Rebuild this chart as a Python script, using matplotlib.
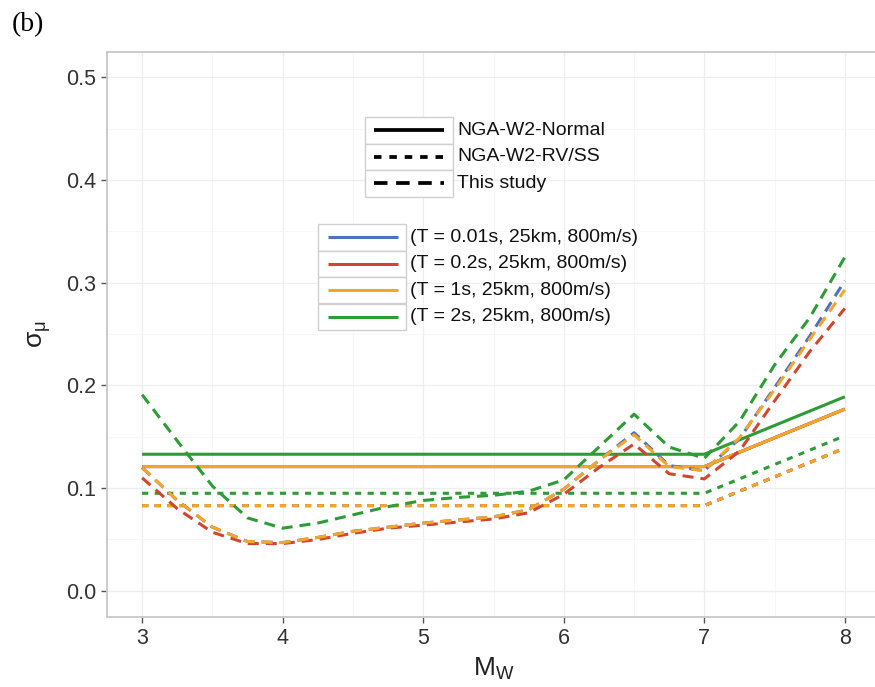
import numpy as np
import matplotlib
matplotlib.use("Agg")
import matplotlib.pyplot as plt
from matplotlib.lines import Line2D
from matplotlib.patches import Rectangle

plt.rcParams['font.family'] = ['Liberation Sans', 'DejaVu Sans']
plt.rcParams['mathtext.fontset'] = 'custom'
plt.rcParams['mathtext.rm'] = 'Liberation Sans'
plt.rcParams['mathtext.it'] = 'Liberation Sans:italic'

# --- data ---
periods = ["(T = 0.01s, 25km, 800m/s)", "(T = 0.2s, 25km, 800m/s)",
           "(T = 1s, 25km, 800m/s)", "(T = 2s, 25km, 800m/s)"]
colors = ['#4C72C2', '#D0472F', '#F4A52A', '#2D9B36']

# NGA-W2 models: breakpoints in Mw
mw_nga = [3.0, 7.0, 8.0]
nga_normal = [
    [0.121, 0.121, 0.177],   # T=0.01s (under orange)
    [0.121, 0.121, 0.177],   # T=0.2s  (under orange)
    [0.121, 0.121, 0.177],   # T=1s
    [0.133, 0.133, 0.189],   # T=2s
]
nga_rvss = [
    [0.083, 0.083, 0.139],
    [0.083, 0.083, 0.139],
    [0.083, 0.083, 0.139],
    [0.095, 0.095, 0.151],
]

# this study
mw = [3.0, 3.25, 3.5, 3.75, 4.0, 4.25, 4.5, 4.75, 5.0, 5.25, 5.5, 5.75,
      6.0, 6.25, 6.5, 6.75, 7.0, 7.25, 7.5, 7.75, 8.0]
this_study = [
    [0.120, 0.088, 0.062, 0.048, 0.047, 0.052, 0.058, 0.062, 0.066, 0.069, 0.072, 0.079,
     0.099, 0.127, 0.154, 0.122, 0.117, 0.148, 0.198, 0.248, 0.302],
    [0.110, 0.080, 0.057, 0.046, 0.046, 0.050, 0.056, 0.061, 0.064, 0.067, 0.070, 0.076,
     0.094, 0.120, 0.143, 0.114, 0.109, 0.136, 0.185, 0.233, 0.275],
    [0.120, 0.088, 0.062, 0.048, 0.047, 0.052, 0.058, 0.062, 0.066, 0.069, 0.072, 0.079,
     0.099, 0.127, 0.152, 0.121, 0.117, 0.149, 0.196, 0.245, 0.293],
    [0.191, 0.146, 0.102, 0.071, 0.061, 0.066, 0.074, 0.082, 0.088, 0.091, 0.093, 0.097,
     0.108, 0.140, 0.172, 0.140, 0.129, 0.165, 0.220, 0.266, 0.325],
]

model_labels = ["NGA-W2-Normal", "NGA-W2-RV/SS", "This study"]

W, H = 875, 687
fig = plt.figure(figsize=(W / 100, H / 100), dpi=100)

# axes in pixel terms (right edge runs off the canvas as in the original)
left, right, top, bottom = 107, 880, 51.7, 616.5
ax = fig.add_axes([left / W, 1 - bottom / H, (right - left) / W, (bottom - top) / H])

lw = 2.2
ls_dash = (0, (3.6, 2.3))
ls_dot = (0, (2.0, 2.1))

for i in range(4):
    ax.plot(mw_nga, nga_normal[i], color=colors[i], lw=lw, solid_capstyle='butt')
for i in range(4):
    ax.plot(mw_nga, nga_rvss[i], color=colors[i], lw=lw, ls=ls_dot)
for i in range(4):
    ax.plot(mw, this_study[i], color=colors[i], lw=lw, ls=ls_dash)

ax.set_xlim(2.75, 8.25)
ax.set_ylim(-0.025, 0.525)
ax.set_xticks([3, 4, 5, 6, 7, 8])
ax.set_yticks([0.0, 0.1, 0.2, 0.3, 0.4, 0.5])
ax.set_xticks([3.5, 4.5, 5.5, 6.5, 7.5], minor=True)
ax.set_yticks([0.05, 0.15, 0.25, 0.35, 0.45], minor=True)
ax.grid(True, which='major', color='#EEEEEE', lw=0.9)
ax.grid(True, which='minor', color='#F7F7F7', lw=0.7)
ax.set_axisbelow(True)
ax.tick_params(which='minor', length=0)
ax.tick_params(which='major', length=4, width=1, color='#555555',
               labelsize=15.5, labelcolor='#333333', pad=4)
for sp in ax.spines.values():
    sp.set_color('#C8C8C8')
    sp.set_linewidth(1.3)

ax.set_xlabel(r'$\mathregular{M_W}$', fontsize=19, color='#222222', labelpad=5)
ax.set_ylabel(r'$\mathregular{\sigma_\mu}$', fontsize=19, color='#222222', labelpad=9)

fig.text(12 / W, 1 - 25 / H, "(b)", family=['Liberation Serif'], fontsize=20,
         va='center', ha='left')


def px(x, y):
    return x / W, 1 - y / H


def draw_legend(x0, x1, row_edges, styles, labels, line_x):
    for k in range(len(labels)):
        ya, yb = row_edges[k], row_edges[k + 1]
        fx, fy = px(x0, yb)
        fig.add_artist(Rectangle((fx, fy), (x1 - x0) / W, (yb - ya) / H,
                                 transform=fig.transFigure, facecolor='white',
                                 edgecolor='#D0D0D0', lw=1.0))
        yc = (ya + yb) / 2
        col, ls = styles[k]
        lx0, ly = px(line_x[0], yc)
        lx1, _ = px(line_x[1], yc)
        fig.add_artist(Line2D([lx0, lx1], [ly, ly], transform=fig.transFigure,
                              color=col, lw=lw + (0.5 if col == 'black' else 0),
                              ls=ls, solid_capstyle='butt'))
        tx, ty = px(x1 + 4, yc)
        fig.text(tx, ty, labels[k], fontsize=14, va='center', ha='left', color='#111111')


draw_legend(365, 453, [117, 143.5, 170, 196.5],
            [('black', '-'), ('black', ls_dot), ('black', ls_dash)],
            model_labels, (374, 444))
draw_legend(318, 406, [224, 250.5, 277, 303.5, 330],
            [(c, '-') for c in colors], periods, (328, 398))

fig.savefig("out.png", dpi=100)
